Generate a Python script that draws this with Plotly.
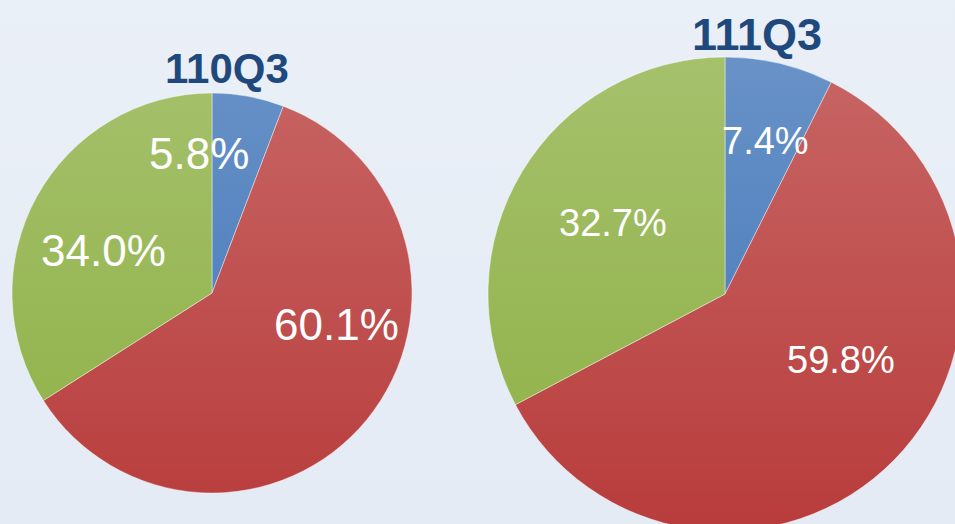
import base64
import plotly.graph_objects as go

# figure slightly larger than the 955x524 window so the right pie is cropped like the reference
W, H = 963, 532

categories = ["A", "B", "C"]
values_110 = [5.8, 60.1, 34.0]
values_111 = [7.4, 59.8, 32.7]
labels_110 = ["5.8%", "60.1%", "34.0%"]
labels_111 = ["7.4%", "59.8%", "32.7%"]
titles = ["110Q3", "111Q3"]
colors = ["#3f74b8", "#b83c3b", "#8db044"]


def px_x(x):
    return x / W


def px_y(y):
    return 1 - y / H


fig = go.Figure()

fig.add_trace(go.Pie(
    labels=categories, values=values_110, sort=False, direction="clockwise",
    rotation=0, textinfo="none", hoverinfo="skip", showlegend=False,
    marker=dict(colors=colors, line=dict(color="rgba(255,255,255,0.6)", width=0.7)),
    domain=dict(x=[px_x(12), px_x(412)], y=[px_y(493), px_y(93)]),
))
fig.add_trace(go.Pie(
    labels=categories, values=values_111, sort=False, direction="clockwise",
    rotation=0, textinfo="none", hoverinfo="skip", showlegend=False,
    marker=dict(colors=colors, line=dict(color="rgba(255,255,255,0.6)", width=0.7)),
    domain=dict(x=[px_x(488), px_x(962)], y=[px_y(531), px_y(57)]),
))

# vertical light gradient overlay (lighter at the top)
svg = ('<svg xmlns="http://www.w3.org/2000/svg" viewBox="0 0 100 100" preserveAspectRatio="none">'
       '<defs><linearGradient id="g" x1="0" y1="0" x2="0" y2="1">'
       '<stop offset="0" stop-color="#ffffff" stop-opacity="0.24"/>'
       '<stop offset="1" stop-color="#ffffff" stop-opacity="0"/>'
       '</linearGradient></defs><rect width="100" height="100" fill="url(#g)"/></svg>')
uri = "data:image/svg+xml;base64," + base64.b64encode(svg.encode()).decode()

annotations = []
title_pos = [(227, 68, 42), (757, 35, 45)]
for t, (x, y, s) in zip(titles, title_pos):
    annotations.append(dict(text=f"<b>{t}</b>", x=px_x(x), y=px_y(y), xref="paper", yref="paper",
                            showarrow=False, xanchor="center", yanchor="middle",
                            font=dict(family="Liberation Sans, Arial", size=s, color="#1f497d")))
pos_110 = [(199, 153), (336, 324), (103, 250)]
pos_111 = [(765, 141), (841, 360), (613, 223)]
for labs, poss, size in [(labels_110, pos_110, 44), (labels_111, pos_111, 38)]:
    for lab, (x, y) in zip(labs, poss):
        annotations.append(dict(text=lab, x=px_x(x), y=px_y(y), xref="paper", yref="paper",
                                showarrow=False, xanchor="center", yanchor="middle",
                                font=dict(family="Liberation Sans, Arial", size=size, color="white")))

fig.update_layout(
    width=W, height=H,
    margin=dict(l=0, r=0, t=0, b=0),
    paper_bgcolor="#e4ebf5",
    plot_bgcolor="#e4ebf5",
    annotations=annotations,
    images=[dict(source=uri, xref="paper", yref="paper", x=0, y=1, sizex=1, sizey=1,
                 xanchor="left", yanchor="top", sizing="stretch", layer="above")],
)

fig.write_html(
    "out.html",
    config={"displayModeBar": False},
    post_script=("document.documentElement.style.margin='0';document.body.style.margin='0';"
                 "document.documentElement.style.overflow='hidden';document.body.style.overflow='hidden';"
                 "document.body.style.background='#e4ebf5';"),
)
